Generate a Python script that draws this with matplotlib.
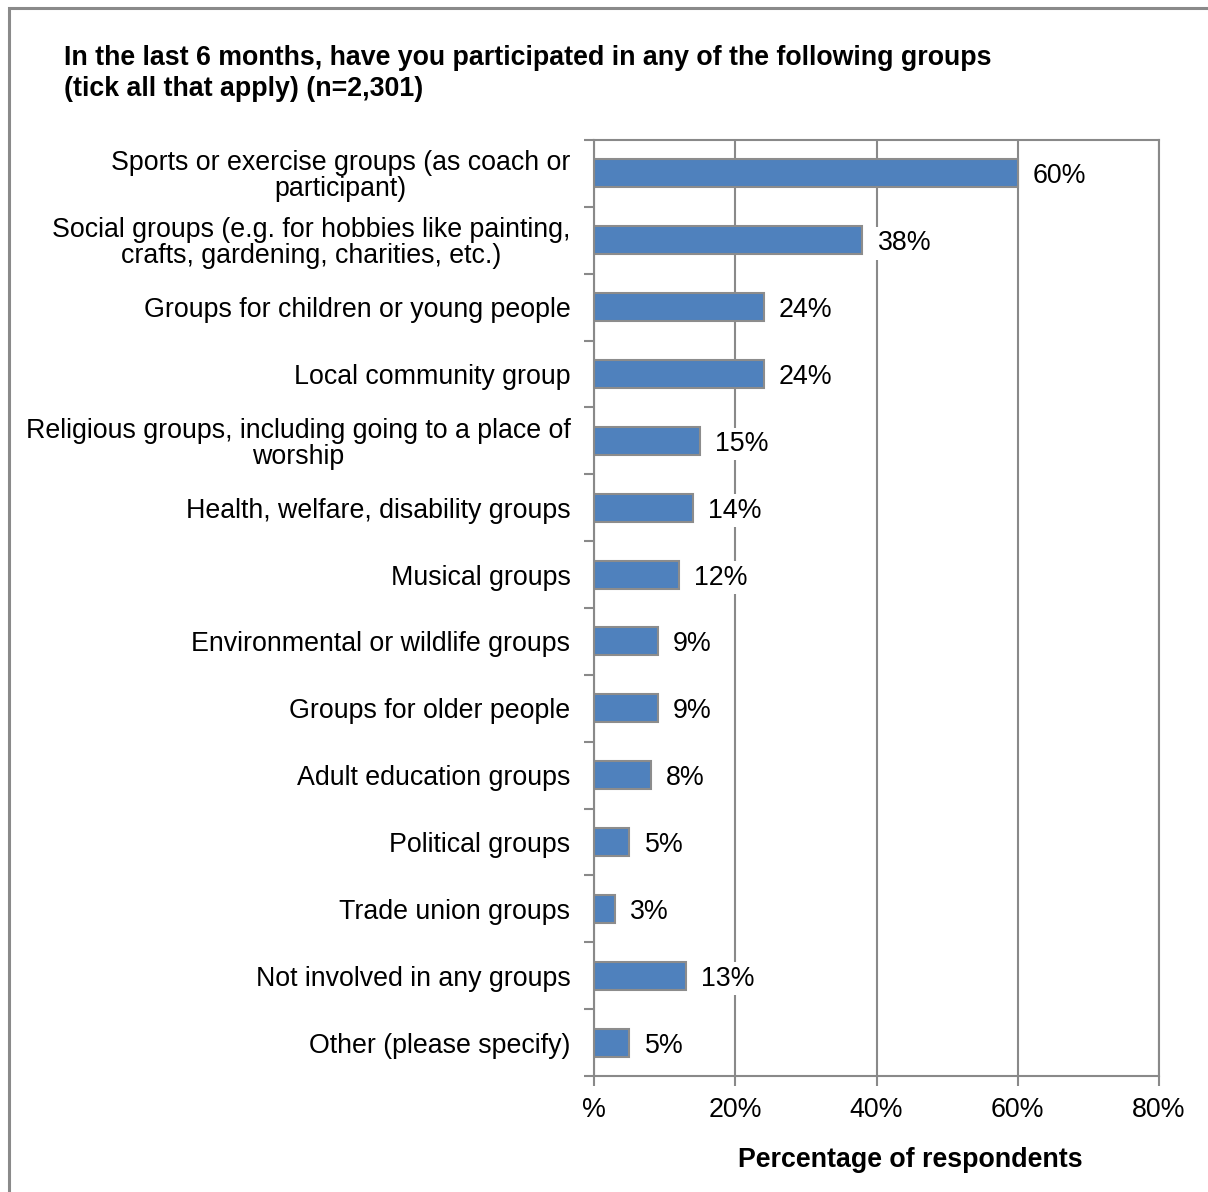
import matplotlib
matplotlib.use("Agg")
import matplotlib.pyplot as plt
from matplotlib.patches import Rectangle

plt.rcParams['font.family'] = ['Liberation Sans', 'DejaVu Sans']

categories = [
  "Sports or exercise groups (as coach or\nparticipant)",
  "Social groups (e.g. for hobbies like painting,\ncrafts, gardening, charities, etc.)",
  "Groups for children or young people",
  "Local community group",
  "Religious groups, including going to a place of\nworship",
  "Health, welfare, disability groups",
  "Musical groups",
  "Environmental or wildlife groups",
  "Groups for older people",
  "Adult education groups",
  "Political groups",
  "Trade union groups",
  "Not involved in any groups",
  "Other (please specify)",
]
values = [60, 38, 24, 24, 15, 14, 12, 9, 9, 8, 5, 3, 13, 5]
xticks = [0, 20, 40, 60, 80]
xtick_labels = ["%", "20%", "40%", "60%", "80%"]

title = ("In the last 6 months, have you participated in any of the following groups\n"
         "(tick all that apply) (n=2,301)")
xlabel = "Percentage of respondents"

W, H = 1208, 1192
FS = 19.3
fig = plt.figure(figsize=(W / 100, H / 100), dpi=100)
fig.patch.set_facecolor("white")

# outer frame, running off the right and bottom edges
fig.patches.append(Rectangle((9 / W, -0.05), 1.1, 1 - 8 / H + 0.05,
                             transform=fig.transFigure, fill=False,
                             edgecolor="#8a8a8a", linewidth=2.2))

ax = fig.add_axes([594 / W, 1 - 1076 / H, (1159 - 594) / W, (1076 - 140) / H])

grey = "#898989"
n = len(categories)
pos = list(range(n))
ax.barh(pos, values, height=0.42, color="#4f81bd", edgecolor="#8c8c8c",
        linewidth=1.5, zorder=2)

for p, v in zip(pos, values):
  ax.annotate("{}%".format(v), xy=(v, p), xytext=(11, 0), textcoords="offset points",
              ha="left", va="center_baseline", fontsize=FS, color="black", zorder=4,
              bbox=dict(boxstyle="square,pad=0.12", facecolor="white", edgecolor="none"))

ax.set_xlim(0, 80)
ax.set_ylim(n - 0.5, -0.5)
ax.set_xticks(xticks)
ax.set_xticklabels(xtick_labels, fontsize=FS)
ax.set_yticks(pos)
ax.set_yticklabels(categories, fontsize=FS, ha="right", multialignment="center",
                   linespacing=1.0)
ax.tick_params(axis="y", length=0, pad=17)
ax.set_yticks([p - 0.5 for p in range(n + 1)], minor=True)
ax.tick_params(axis="y", which="minor", length=7, width=1.5, color=grey)
ax.tick_params(axis="x", length=7, width=1.5, color=grey, pad=8)

ax.grid(axis="x", color=grey, linewidth=1.5, zorder=1)
ax.set_axisbelow(True)
for s in ax.spines.values():
  s.set_color(grey)
  s.set_linewidth(1.5)

fig.text(64 / W, 1 - 45 / H, title, fontsize=FS, fontweight="bold",
         ha="left", va="top", linespacing=1.25)
fig.text(910 / W, 1 - 1160 / H, xlabel, fontsize=FS, fontweight="bold",
         ha="center", va="center")

fig.savefig("out.png", dpi=100, facecolor="white")
